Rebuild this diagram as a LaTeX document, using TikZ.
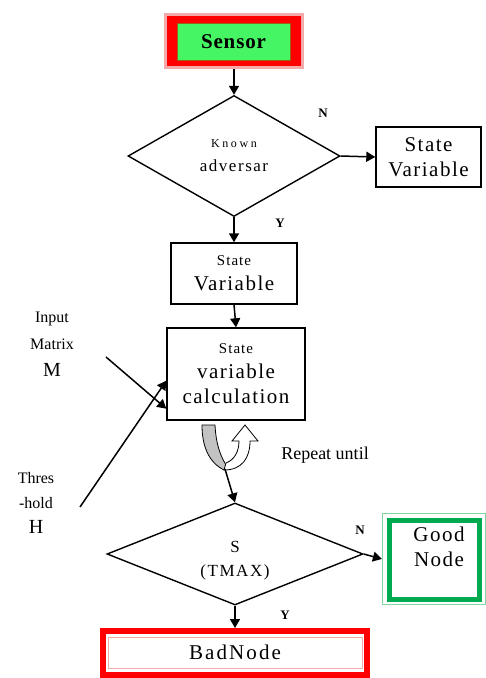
\documentclass[tikz,border=0pt]{standalone}
\usepackage{fontspec}
\setmainfont{Liberation Serif}
\usetikzlibrary{shapes.geometric,arrows.meta,calc}
\definecolor{sgreen}{RGB}{70,245,100}
\definecolor{solive}{RGB}{150,100,20}
\definecolor{gdark}{RGB}{0,170,80}
\definecolor{glight}{RGB}{130,215,160}
\definecolor{rlight}{RGB}{245,170,170}
\definecolor{rgray}{RGB}{195,195,195}
\newcommand{\fbig}{\fontsize{21}{25}\selectfont\addfontfeature{LetterSpace=7}}
\newcommand{\fmid}{\fontsize{17}{24}\selectfont\addfontfeature{LetterSpace=9}}
\newcommand{\fsml}{\fontsize{15}{18}\selectfont}
\begin{document}
\begin{tikzpicture}[x=1pt,y=-1pt,
  box/.style={draw, line width=1.4pt, rectangle, inner sep=0pt, align=center},
  dia/.style={draw, diamond, line width=1.4pt, inner sep=0pt, align=center},
  arr/.style={-{Triangle[length=9pt,width=10pt]}, line width=1.5pt},
  yn/.style={font=\bfseries\fontsize{13}{14}\selectfont},
]
\useasboundingbox (0,0) rectangle (486,678);

% Sensor
\node[draw=rlight, fill=red, line width=3pt, minimum width=137pt, minimum height=53pt, inner sep=0] (sensorframe) at (234,41) {};
\node[draw=solive, fill=sgreen, line width=1pt, minimum width=113pt, minimum height=37pt, inner sep=0, font=\bfseries\fontsize{21}{24}\selectfont\addfontfeature{LetterSpace=4}] (sensor) at (233.5,41.5) {Sensor};

% decision 1
\node[dia, aspect=1.75, minimum width=212pt, minimum height=121pt, font=\fmid] (d1) at (234,156) {{\fontsize{12}{13}\selectfont\addfontfeature{LetterSpace=22}Known}\\adversar};
\node[box, minimum width=105pt, minimum height=60pt, font=\fbig] (sv1) at (428.5,157) {State\\Variable};
\node[box, minimum width=126pt, minimum height=61pt, font=\fbig] (sv2) at (234,273.5) {{\fsml State}\\Variable};
\node[box, minimum width=138pt, minimum height=92pt, font=\fbig] (calcbox) at (236,374) {{\fsml State}\\variable\\calculation};

% decision 2
\node[dia, aspect=2.5, minimum width=256pt, minimum height=102pt, font=\fmid] (d2) at (235,554) {\rule{0pt}{24pt}S\\(TMAX)};

% Good node
\node[draw=glight, line width=1.2pt, minimum width=103pt, minimum height=91pt, inner sep=0] (goodframe) at (434,559) {};
\node[draw=gdark, line width=5pt, minimum width=89.5pt, minimum height=79pt, inner sep=0] (goodin) at (434.25,560) {};
\node[font=\fbig, align=center] (goodtxt) at (439,547) {Good\\Node};

% Bad node
\node[draw=red, line width=6pt, minimum width=264pt, minimum height=44pt, inner sep=0] (bad) at (235,653) {};
\node[draw=rlight, line width=1pt, minimum width=254pt, minimum height=31pt, inner sep=0, font=\fontsize{21}{24}\selectfont\addfontfeature{LetterSpace=10}] (badtxt) at (235,652.5) {BadNode};

% side labels
\node[font=\fontsize{16}{27}\selectfont, align=center] (inputlbl) at (52,344) {Input\\Matrix\\{\fontsize{20}{24}\selectfont M}};
\node[font=\fontsize{16}{25}\selectfont, align=center] (threslbl) at (36,503) {Thres\\-hold\\{\fontsize{20}{24}\selectfont H}};
\node[font=\fontsize{18}{20}\selectfont] (replbl) at (325,455) {Repeat until};

% Y / N labels
\node[yn] (n1) at (323,113) {N};
\node[yn] (y1) at (280,223) {Y};
\node[yn] (n2) at (360,530) {N};
\node[yn] (y2) at (285,615) {Y};

% repeat symbol
\fill[rgray, draw=black, line width=0.8pt] (202,425) -- (215,425) .. controls (216,445) and (221,458) .. (228,468) -- (224,470) .. controls (208,462) and (202,445) .. (202,425) -- cycle;
\filldraw[fill=white, draw=black, line width=0.8pt] (224,470) .. controls (242,470) and (250,458) .. (250,441) -- (258,441) -- (245,425) -- (232,441) -- (239,441) .. controls (239,452) and (234,460) .. (226,463) -- cycle;

\coordinate (mstart) at (106,357);
\coordinate (hstart) at (80,507);
\coordinate (loopend) at (225,469);

% connectors
\draw[arr] (sensorframe.south) -- (d1.north);
\draw[arr] (d1.east) -- (sv1.west);
\draw[arr] (d1.south) -- (sv2.north);
\draw[arr] (sv2.south) -- (calcbox.north);
\draw[arr] (mstart) -- ($(calcbox.south west)+(0,-12)$);
\draw[arr] (hstart) -- ($(calcbox.south west)+(0,-40)$);
\draw[arr] (loopend) -- (d2.north);
\draw[arr] (d2.east) -- (goodframe.west);
\draw[arr] (d2.south) -- (bad.north);
\end{tikzpicture}
\end{document}
